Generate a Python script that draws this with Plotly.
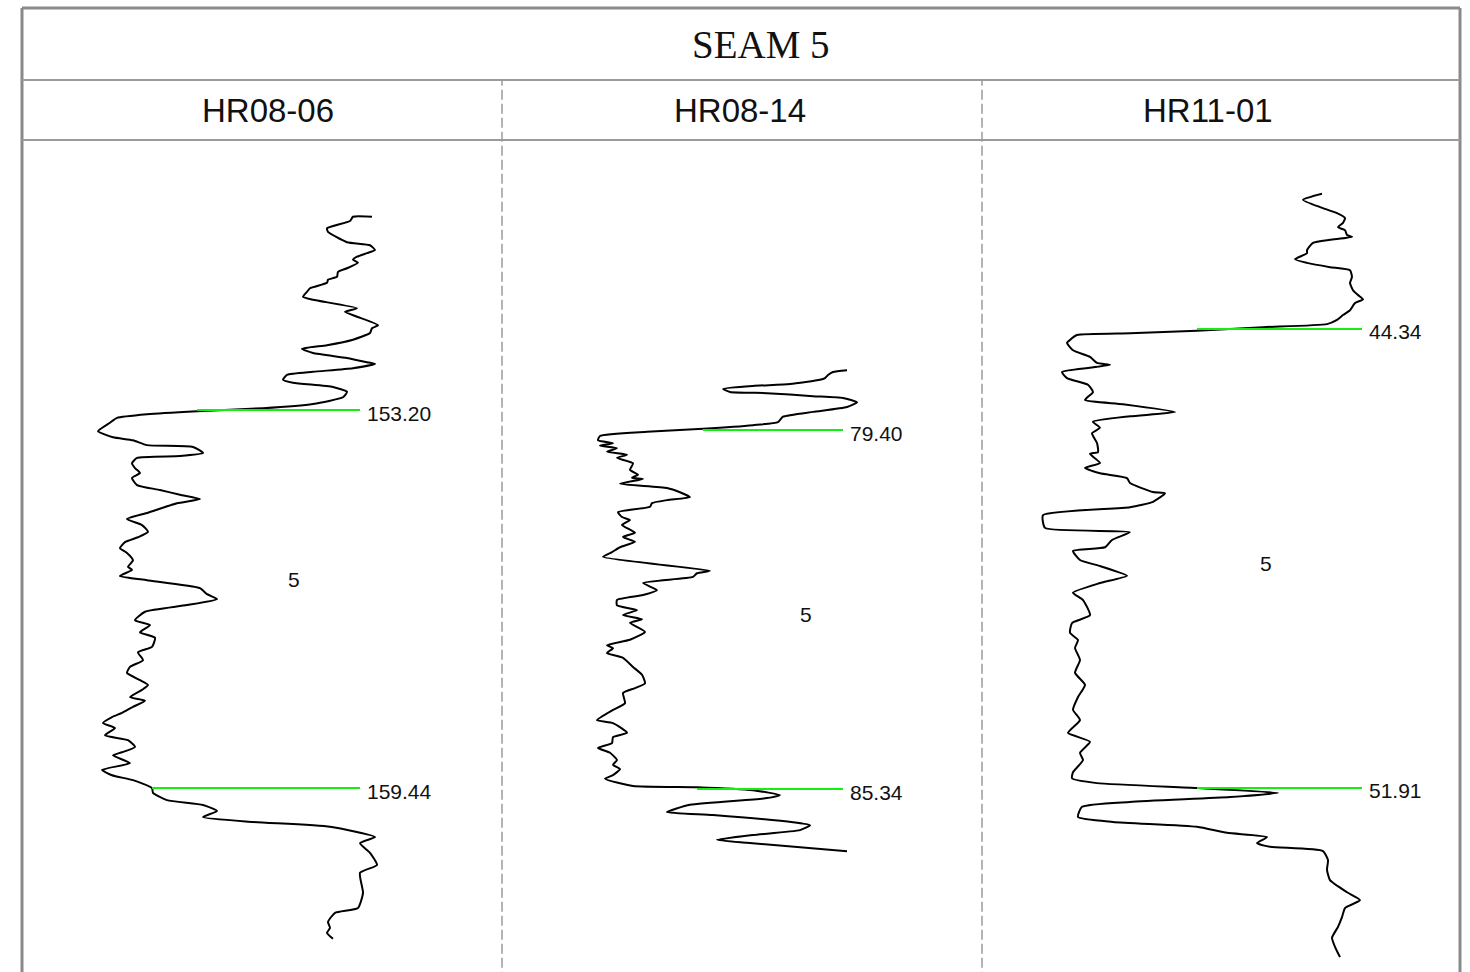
import numpy as np
import plotly.graph_objects as go

# ---------------- data ----------------
title = "SEAM 5"
wells = ["HR08-06", "HR08-14", "HR11-01"]
seam_label = "5"

# picks (top, base) in metres
picks_06 = [153.20, 159.44]
picks_14 = [79.40, 85.34]
picks_11 = [44.34, 51.91]

# HR08-06 gamma log (depth m, GR)
depth_06 = [150.01, 150.01, 150.08, 150.20, 150.26, 150.43, 150.48, 150.56, 150.61, 150.67,
            150.72, 150.77, 150.86, 150.92, 151.00, 151.05, 151.10, 151.19, 151.25, 151.33,
            151.38, 151.52, 151.58, 151.66, 151.80, 151.85, 151.93, 152.04, 152.13, 152.19,
            152.26, 152.34, 152.41, 152.44, 152.51, 152.57, 152.62, 152.70, 152.75, 152.82,
            152.90, 152.99, 153.10, 153.17, 153.22, 153.27, 153.33, 153.41, 153.55, 153.65,
            153.70, 153.78, 153.81, 153.91, 153.96, 153.99, 154.08, 154.16, 154.24, 154.32,
            154.44, 154.52, 154.60, 154.67, 154.74, 154.90, 155.00, 155.10, 155.21, 155.30,
            155.38, 155.48, 155.56, 155.68, 155.79, 155.84, 155.94, 156.01, 156.14, 156.24,
            156.32, 156.42, 156.53, 156.67, 156.75, 156.87, 156.96, 157.11, 157.20, 157.33,
            157.44, 157.54, 157.66, 157.74, 157.82, 157.94, 158.00, 158.10, 158.20, 158.27,
            158.37, 158.45, 158.57, 158.65, 158.76, 158.85, 158.90, 159.03, 159.14, 159.23,
            159.31, 159.44, 159.52, 159.64, 159.72, 159.82, 159.92, 160.00, 160.08, 160.25,
            160.35, 160.51, 160.71, 160.84, 161.17, 161.42, 161.50, 161.65, 161.75, 161.83,
            161.93]
gr_06 = [175, 165.5, 164, 152.5, 153, 162.5, 174, 176.5, 172.5, 167.5,
         165.5, 168, 162.5, 158, 157.5, 153, 152.5, 144, 142.5, 140.5,
         145.5, 167.5, 161.5, 167.5, 178, 175, 174, 165.5, 152.5, 140,
         145.5, 162.5, 172.5, 176.5, 165.5, 145.5, 132.5, 130.5, 135.5, 155.5,
         162.5, 160.5, 145.5, 120.5, 87.5, 62.5, 47.5, 44, 38, 45.5,
         55.5, 62.5, 85.5, 90.5, 79, 57.5, 55, 56.5, 59, 55,
         57.5, 69, 79, 89, 77.5, 62.5, 52.5, 60, 63, 58,
         51.5, 49, 52.5, 55.5, 53, 55, 49, 62.5, 89, 92.5,
         97.5, 82.5, 61.5, 56.5, 64, 59, 66.5, 65, 58, 60.5,
         54, 52.5, 59, 63, 60, 54, 61.5, 55.5, 50, 45,
         40.5, 46.5, 41.5, 53, 56.5, 50, 45.5, 54, 40, 45,
         55.5, 65, 65.5, 72.5, 90.5, 97.5, 90.5, 115.5, 154, 176.5,
         169, 174, 177.5, 169, 170.5, 168, 156.5, 153, 154, 152.5,
         155.5]

# HR08-14 gamma log
depth_14 = [78.41, 78.44, 78.49, 78.54, 78.57, 78.64, 78.67, 78.72, 78.77, 78.79,
            78.84, 78.87, 78.94, 79.02, 79.10, 79.18, 79.27, 79.32, 79.38, 79.43,
            79.50, 79.57, 79.62, 79.66, 79.70, 79.76, 79.81, 79.86, 79.95, 80.06,
            80.14, 80.19, 80.21, 80.29, 80.36, 80.43, 80.51, 80.56, 80.61, 80.67,
            80.76, 80.84, 80.89, 80.97, 81.10, 81.17, 81.25, 81.34, 81.42, 81.50,
            81.73, 81.77, 81.83, 81.93, 82.05, 82.13, 82.21, 82.30, 82.38, 82.46,
            82.53, 82.59, 82.74, 82.87, 82.96, 83.01, 83.09, 83.17, 83.32, 83.45,
            83.59, 83.67, 83.75, 83.92, 84.03, 84.20, 84.25, 84.41, 84.48, 84.58,
            84.66, 84.74, 84.86, 84.94, 85.01, 85.11, 85.17, 85.29, 85.31, 85.36,
            85.44, 85.49, 85.60, 85.72, 85.77, 85.89, 85.94, 86.02, 86.10, 86.18,
            86.23, 86.37]
gr_14 = [172.5, 165.5, 163, 161.5, 159, 144, 125.5, 110.5, 114, 132.5,
         155.5, 170.5, 177.5, 172.5, 155.5, 140.5, 138, 125.5, 100.5, 72.5,
         49, 48, 55.5, 49, 57.5, 52.5, 62.5, 57.5, 65.5, 64,
         68, 65, 70.5, 59, 82.5, 89, 94, 82.5, 75, 74,
         58, 60, 64, 60, 66.5, 60.5, 66.5, 59, 55, 50.5,
         104, 97.5, 95.5, 70.5, 77.5, 70.5, 57.5, 57.5, 67.5, 60.5,
         70, 64, 71.5, 64, 52.5, 55.5, 52.5, 60.5, 65.5, 70,
         71.5, 66.5, 60.5, 61.5, 55.5, 47.5, 55.5, 62.5, 55.5, 55,
         48, 54, 57.5, 55.5, 59, 55.5, 51.5, 65.5, 97.5, 125.5,
         139, 132.5, 94, 82.5, 105.5, 145.5, 154, 149, 125.5, 107.5,
         122.5, 172.5]

# HR11-01 gamma log
depth_11 = [42.11, 42.21, 42.33, 42.43, 42.51, 42.59, 42.66, 42.71, 42.79, 42.82,
            42.87, 42.92, 43.04, 43.09, 43.19, 43.25, 43.32, 43.37, 43.48, 43.58,
            43.70, 43.78, 43.85, 43.91, 44.03, 44.11, 44.19, 44.26, 44.31, 44.37,
            44.41, 44.44, 44.52, 44.57, 44.69, 44.80, 44.90, 44.93, 44.98, 45.05,
            45.15, 45.26, 45.38, 45.51, 45.58, 45.71, 45.78, 45.87, 45.97, 46.06,
            46.22, 46.37, 46.40, 46.55, 46.63, 46.72, 46.80, 46.88, 47.03, 47.05,
            47.19, 47.28, 47.41, 47.62, 47.69, 47.82, 47.94, 48.00, 48.15, 48.25,
            48.41, 48.53, 48.69, 48.81, 49.06, 49.19, 49.35, 49.47, 49.60, 49.80,
            50.01, 50.21, 50.41, 50.62, 50.79, 51.00, 51.15, 51.33, 51.45, 51.65,
            51.75, 51.83, 51.91, 51.99, 52.06, 52.14, 52.22, 52.39, 52.47, 52.55,
            52.65, 52.72, 52.82, 52.88, 52.95, 53.10, 53.26, 53.43, 53.63, 53.76,
            53.89, 54.04, 54.20, 54.38, 54.53, 54.70]
gr_11 = [170, 160.5, 169, 177.5, 181.5, 180.5, 178, 181.5, 182.5, 185,
         174, 165.5, 162.5, 162.5, 156.5, 162.5, 174, 184, 185, 184,
         185.5, 188, 190.5, 186.5, 184, 180.5, 177.5, 172.5, 140.5, 107.5,
         74, 47.5, 44, 42.5, 45.5, 54, 57.5, 64, 54, 40,
         42.5, 53, 55.5, 51.5, 70.5, 96.5, 74, 55.5, 59, 55,
         57.5, 58, 54, 59, 51.5, 59, 72.5, 74, 85.5, 91.5,
         85.5, 74, 30.5, 31.5, 74, 65, 61.5, 45.5, 49, 59,
         72.5, 59, 45.5, 50.5, 54, 45, 44, 48, 46.5, 49,
         46.5, 51.5, 48, 45.5, 49, 43, 54, 49, 50.5, 45.5,
         45, 57.5, 107.5, 148, 124, 74, 50, 48, 65.5, 107.5,
         122.5, 142.5, 137.5, 144, 170.5, 173, 172.5, 174, 182.5, 189,
         181.5, 180, 178, 175, 176.5, 179]

# pick-line start/end (GR units) and seam-label anchors (GR, depth)
pick_start = [[87.5, 65], [100.5, 97.5], [107.5, 107.5]]
pick_end = [169, 170.5, 190]
seam_label_pos = [(136, 155.99), (152, 82.46), (142, 48.20)]

# ---------------- figure ----------------
W, H = 1470, 972
px = lambda v: v / W
py = lambda v: 1 - v / H

logs = [(depth_06, gr_06, picks_06), (depth_14, gr_14, picks_14), (depth_11, gr_11, picks_11)]
col_edges = [22, 502, 982, 1460]
x_ranges = [[0, 240], [0, 240], [0, 239]]
y_ranges = [[162.477, 148.743], [88.367, 74.602], [54.945, 41.223]]
name_x = [268, 740, 1208]

fig = go.Figure()
GREEN = "#14ee14"
SANS = "Arial, Liberation Sans, sans-serif"

for i, (dep, gr, pk) in enumerate(logs):
    xa = "x" if i == 0 else f"x{i+1}"
    ya = "y" if i == 0 else f"y{i+1}"
    fig.add_trace(go.Scatter(x=gr, y=dep, mode="lines", xaxis=xa, yaxis=ya,
                             line=dict(color="black", width=2, shape="spline", smoothing=0.5),
                             showlegend=False, hoverinfo="skip"))
    for j, p in enumerate(pk):
        x0 = pick_start[i][j]
        fig.add_trace(go.Scatter(x=[x0, pick_end[i]], y=[p, p], mode="lines", xaxis=xa, yaxis=ya,
                                 line=dict(color=GREEN, width=2), showlegend=False, hoverinfo="skip"))
        fig.add_annotation(x=pick_end[i], y=p, xref=xa, yref=ya, text=f"{p:.2f}",
                           showarrow=False, xanchor="left", yanchor="middle", xshift=5, yshift=-3,
                           font=dict(family=SANS, size=21, color="#111"))
    lx, ly = seam_label_pos[i]
    fig.add_annotation(x=lx, y=ly, xref=xa, yref=ya, text=seam_label, showarrow=False,
                       font=dict(family=SANS, size=21, color="#111"))
    # headers
    fig.add_annotation(x=px(name_x[i]), y=py(111), xref="paper", yref="paper", text=wells[i],
                       showarrow=False, xanchor="center", yanchor="middle",
                       font=dict(family=SANS, size=33, color="#111"))

layout_axes = {}
for i in range(3):
    xk = "xaxis" if i == 0 else f"xaxis{i+1}"
    yk = "yaxis" if i == 0 else f"yaxis{i+1}"
    layout_axes[xk] = dict(domain=[px(col_edges[i]), px(col_edges[i + 1])], range=x_ranges[i],
                           visible=False, anchor="y" if i == 0 else f"y{i+1}", fixedrange=True)
    layout_axes[yk] = dict(domain=[0, py(140)], range=y_ranges[i], visible=False,
                           anchor="x" if i == 0 else f"x{i+1}", fixedrange=True)

fig.update_layout(**layout_axes)

fig.add_annotation(x=px(761), y=py(45), xref="paper", yref="paper", text=title, showarrow=False,
                   xanchor="center", yanchor="middle",
                   font=dict(family="Liberation Serif, Times New Roman, serif", size=39, color="#111"))

frame = "#8a8a8a"
inner = "#9a9a9a"
shapes = [
    dict(type="line", xref="paper", yref="paper", x0=px(22), x1=px(22), y0=-0.01, y1=py(8),
         line=dict(color=frame, width=3)),
    dict(type="line", xref="paper", yref="paper", x0=px(1460), x1=px(1460), y0=-0.01, y1=py(8),
         line=dict(color=frame, width=3)),
    dict(type="line", xref="paper", yref="paper", x0=px(22), x1=px(1460), y0=py(8), y1=py(8),
         line=dict(color=frame, width=3)),
    dict(type="line", xref="paper", yref="paper", x0=px(22), x1=px(1460), y0=py(80), y1=py(80),
         line=dict(color=inner, width=2)),
    dict(type="line", xref="paper", yref="paper", x0=px(22), x1=px(1460), y0=py(140), y1=py(140),
         line=dict(color=inner, width=2)),
    dict(type="line", xref="paper", yref="paper", x0=px(502), x1=px(502), y0=-0.01, y1=py(80),
         line=dict(color=inner, width=1.5, dash="10px,4px")),
    dict(type="line", xref="paper", yref="paper", x0=px(982), x1=px(982), y0=-0.01, y1=py(80),
         line=dict(color=inner, width=1.5, dash="10px,4px")),
]
fig.update_layout(shapes=shapes, width=W, height=H, margin=dict(l=0, r=0, t=0, b=0),
                  paper_bgcolor="white", plot_bgcolor="rgba(0,0,0,0)")

fig.write_html("out.html", config={"displayModeBar": False},
               post_script="document.body.style.margin='0';document.body.style.overflow='hidden';")
